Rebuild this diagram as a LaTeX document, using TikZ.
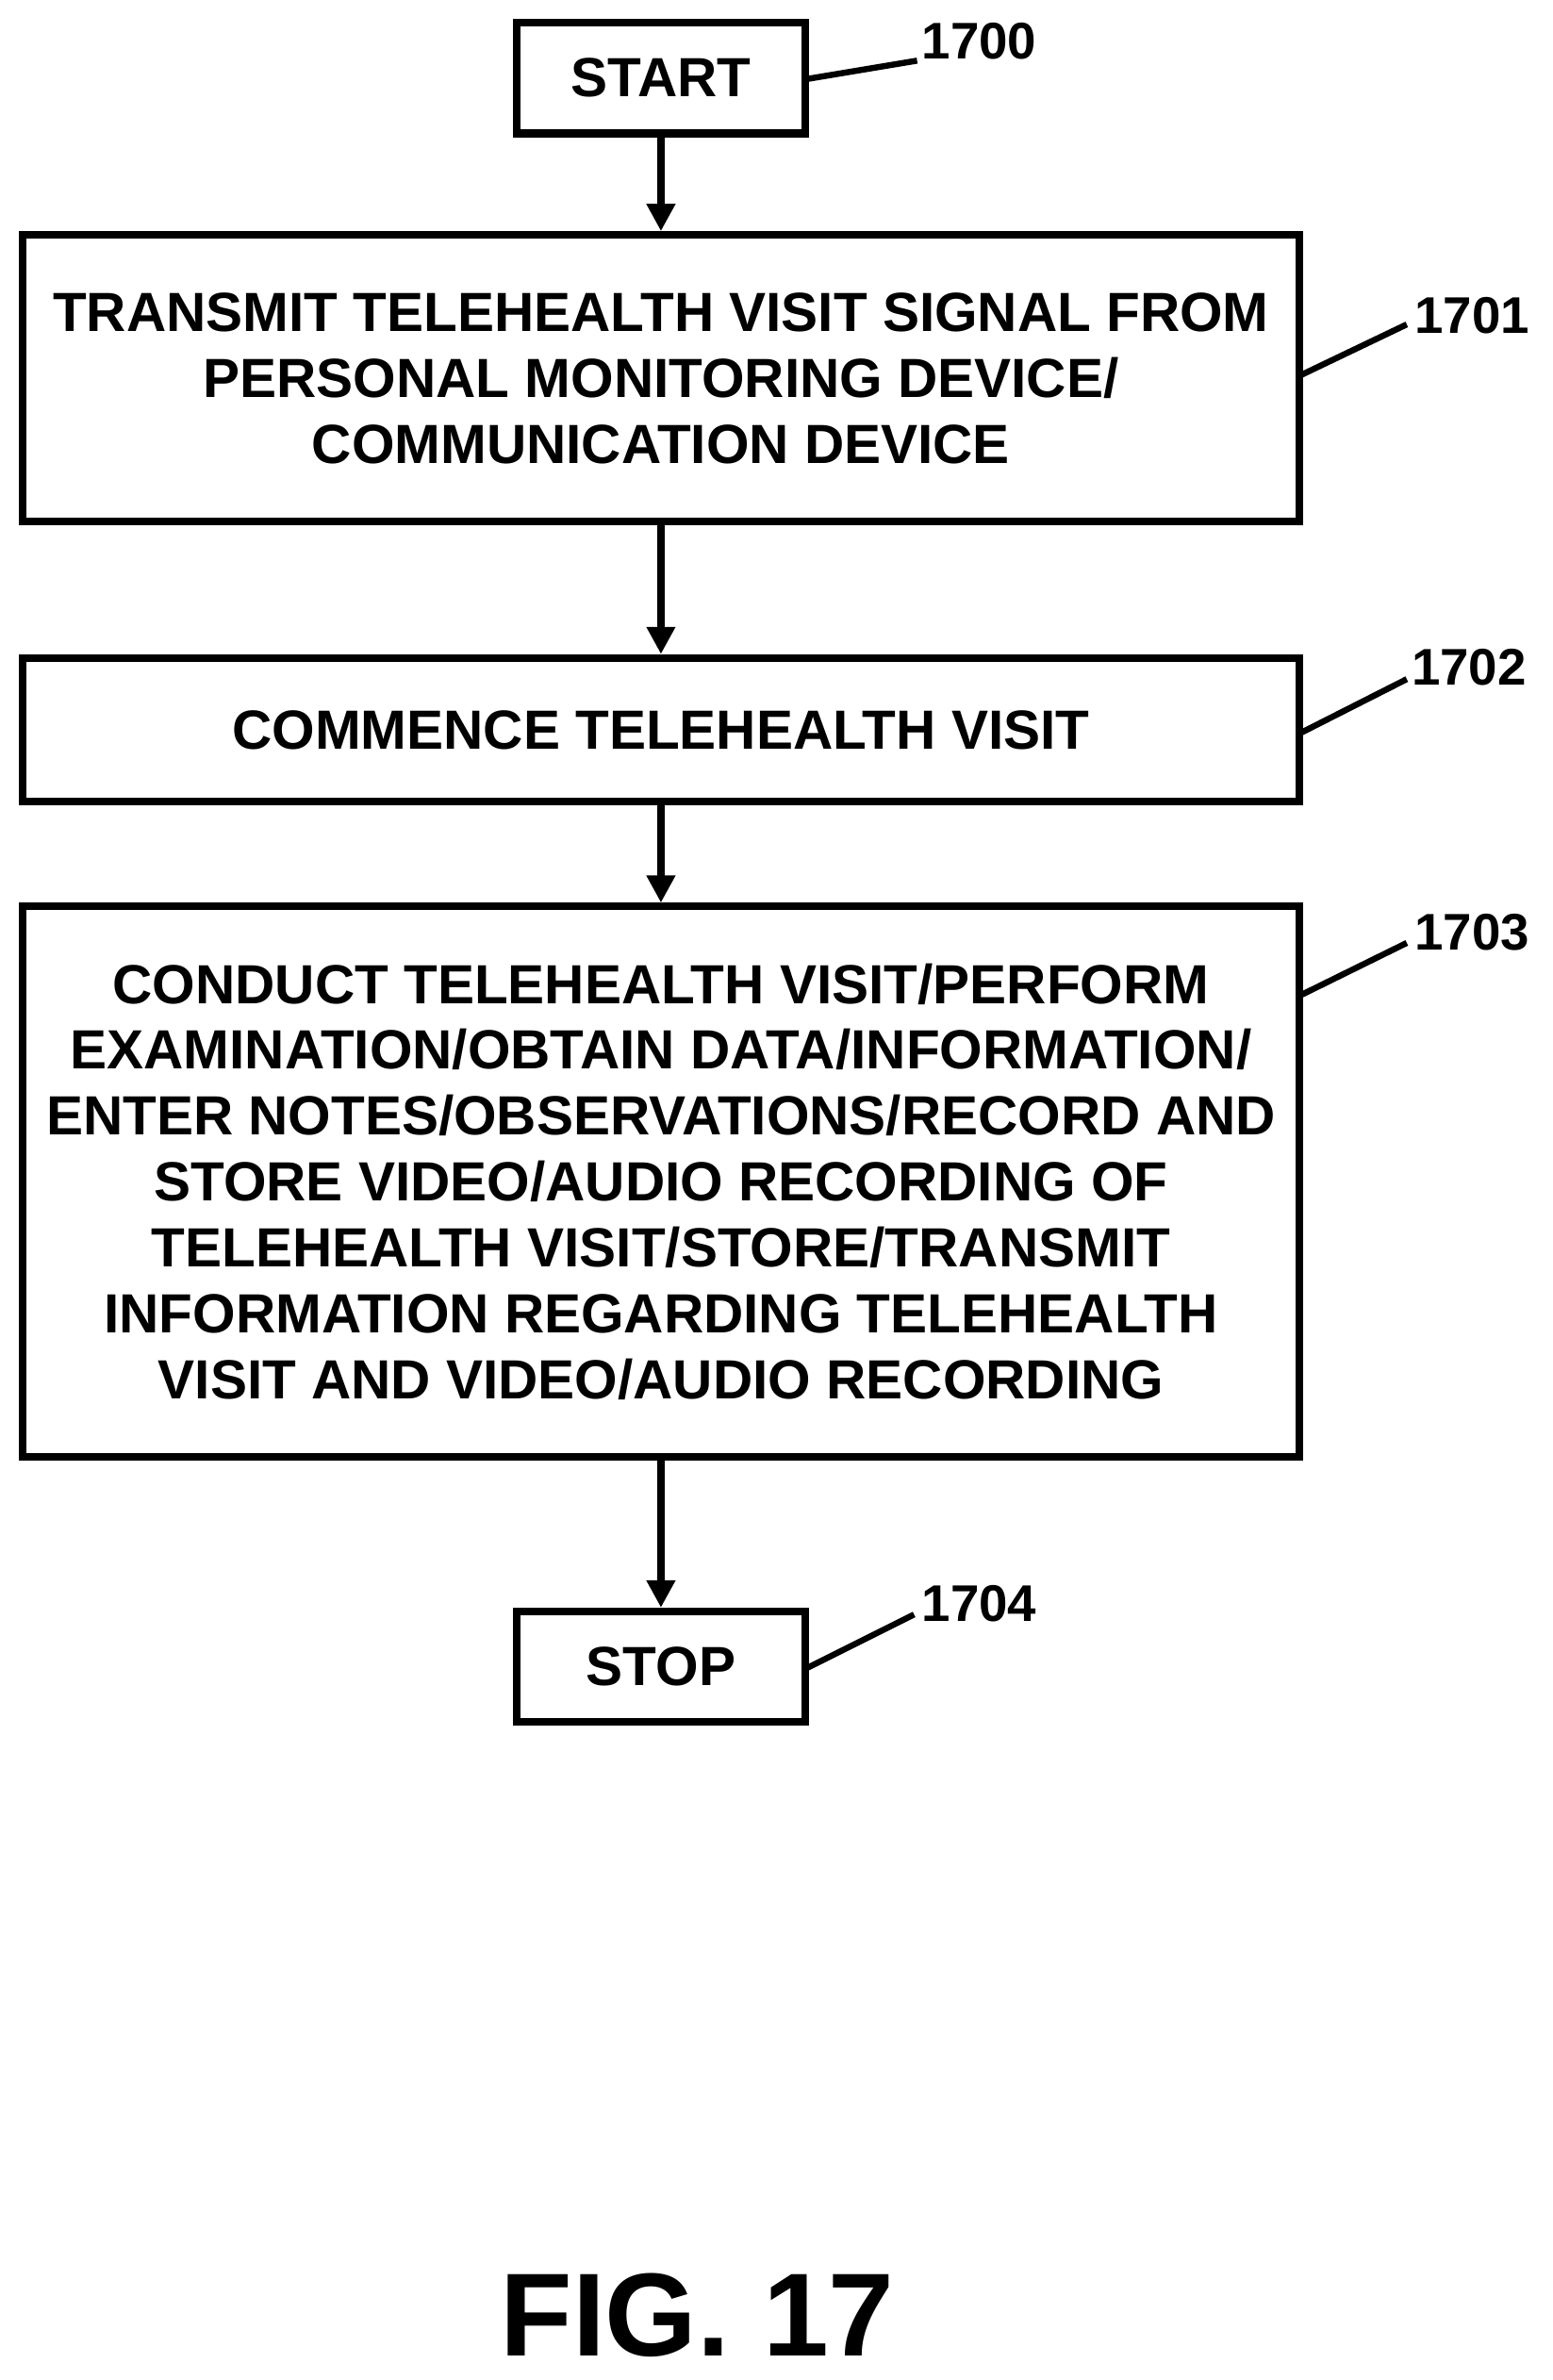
\documentclass[tikz,border=0pt]{standalone}
\usepackage{fontspec}
\setmainfont{Liberation Sans}
\usetikzlibrary{arrows.meta}
\begin{document}
\begin{tikzpicture}[x=0.5pt,y=-0.5pt,
  box/.style={draw,line width=2.5pt,inner sep=0pt},
  txt/.style={align=center,font=\fontsize{18.2}{21.75}\selectfont\bfseries},
  lbl/.style={font=\fontsize{17}{18}\selectfont\bfseries},
  arr/.style={line width=2.5pt,-{Triangle[length=9pt,width=9pt]}},
  lead/.style={line width=2pt}]
\useasboundingbox (0,0) rectangle (1024,1570);
\node[box,minimum width=95pt,minimum height=36.5pt] (s) at (436,51.5) {};
\node[txt] at (436,51.5) {START};
\node[box,minimum width=421pt,minimum height=94.5pt] (b1) at (436,249.5) {};
\node[txt] at (436,249.5) {TRANSMIT TELEHEALTH VISIT SIGNAL FROM\\PERSONAL MONITORING DEVICE/\\COMMUNICATION DEVICE};
\node[box,minimum width=421pt,minimum height=47.5pt] (b2) at (436,481.5) {};
\node[txt] at (436,481.5) {COMMENCE TELEHEALTH VISIT};
\node[box,minimum width=421pt,minimum height=181.5pt] (b3) at (436,779.5) {};
\node[txt] at (436,779.5) {CONDUCT TELEHEALTH VISIT/PERFORM\\EXAMINATION/OBTAIN DATA/INFORMATION/\\ENTER NOTES/OBSERVATIONS/RECORD AND\\STORE VIDEO/AUDIO RECORDING OF\\TELEHEALTH VISIT/STORE/TRANSMIT\\INFORMATION REGARDING TELEHEALTH\\VISIT AND VIDEO/AUDIO RECORDING};
\node[box,minimum width=95pt,minimum height=36.5pt] (e) at (436,1099.5) {};
\node[txt] at (436,1099.5) {STOP};
\draw[arr] (s.south) -- (b1.north);
\draw[arr] (b1.south) -- (b2.north);
\draw[arr] (b2.south) -- (b3.north);
\draw[arr] (b3.south) -- (e.north);
\node[lbl] (l0) at (646,27) {1700};
\node[lbl] (l1) at (971,208) {1701};
\node[lbl] (l2) at (969,440) {1702};
\node[lbl] (l3) at (971,615) {1703};
\node[lbl] (l4) at (646,1058) {1704};
\coordinate (c0) at (533,52); \coordinate (d0) at (605,40);
\coordinate (c1) at (857,248); \coordinate (d1) at (928,214);
\coordinate (c2) at (857,484); \coordinate (d2) at (928,448);
\coordinate (c3) at (857,657); \coordinate (d3) at (928,622);
\coordinate (c4) at (533,1100); \coordinate (d4) at (603,1065);
\draw[lead] (c0)--(d0); \draw[lead] (c1)--(d1); \draw[lead] (c2)--(d2);
\draw[lead] (c3)--(d3); \draw[lead] (c4)--(d4);
\node[font=\fontsize{39}{44}\selectfont\bfseries] (fig) at (460,1527) {FIG. 17};
\end{tikzpicture}
\end{document}
